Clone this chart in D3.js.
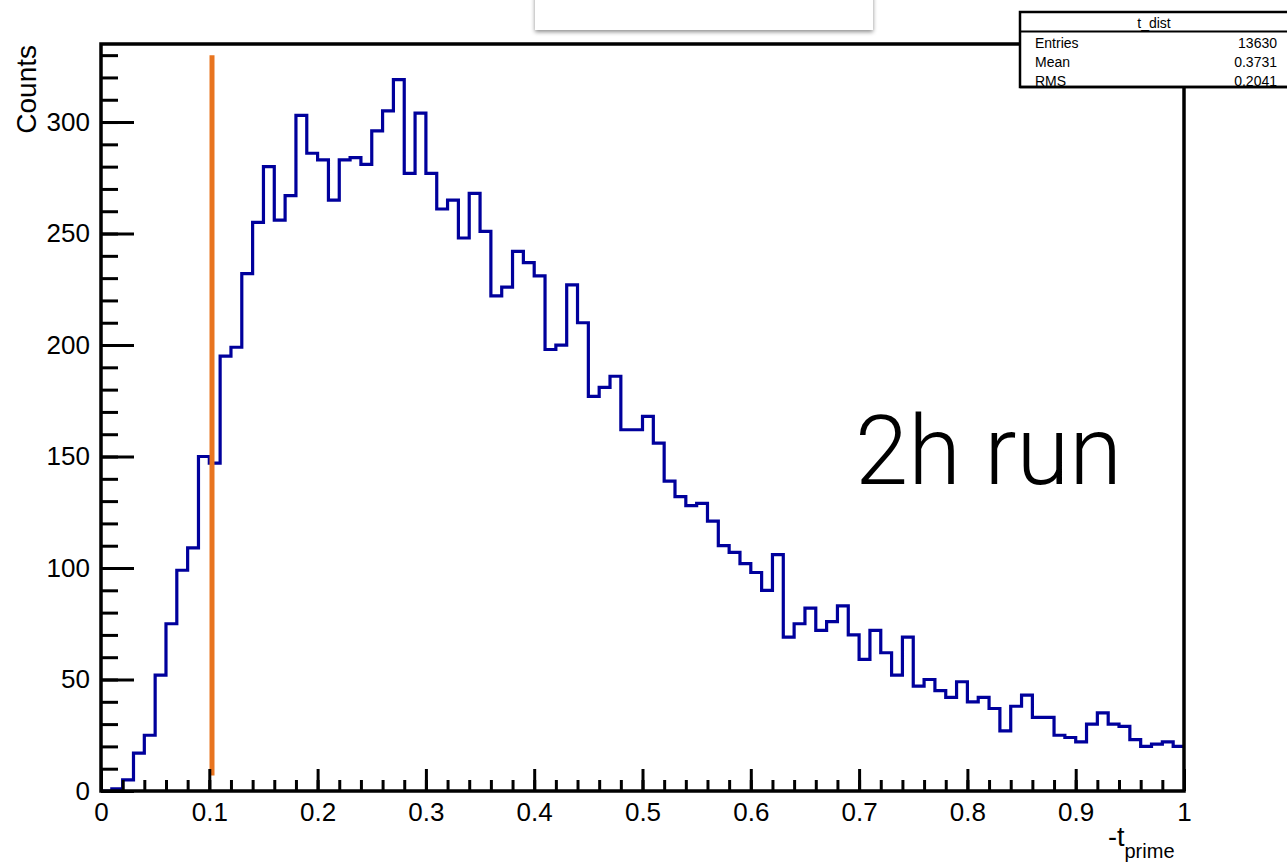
<!DOCTYPE html>
<html lang="en">
  <head>
    <meta charset="UTF-8" />
    <title>t_dist</title>
    <script src="https://cdn.jsdelivr.net/npm/d3@7/dist/d3.min.js"></script>
    <style>
      body { margin: 0; background: #fff; }
      text { font-family: "Liberation Sans", Arial, sans-serif; }
    </style>
  </head>
  <body>
    <div id="wrapper"></div>
    <script>
      // histogram of -t_prime, 100 bins between 0 and 1
      const xRange = [0, 1];
      const counts = [
        0, 1, 5, 17, 25, 52, 75, 99, 109, 150,
        147, 195, 199, 232, 255, 280, 256, 267, 303, 286,
        283, 265, 283, 284, 281, 296, 305, 319, 277, 304,
        277, 261, 265, 248, 268, 251, 222, 226, 242, 237,
        231, 198, 200, 227, 210, 177, 181, 186, 162, 162,
        168, 156, 139, 132, 128, 129, 121, 110, 107, 102,
        98, 90, 106, 69, 75, 82, 72, 76, 83, 70,
        59, 72, 62, 52, 69, 47, 50, 45, 42, 49,
        40, 42, 37, 27, 38, 43, 33, 33, 25, 24,
        22, 30, 35, 30, 29, 23, 20, 21, 22, 20,
      ];
      const yMax = 335;
      const xTicks = [0, 0.1, 0.2, 0.3, 0.4, 0.5, 0.6, 0.7, 0.8, 0.9, 1];
      const xTickLabels = ["0", "0.1", "0.2", "0.3", "0.4", "0.5", "0.6", "0.7", "0.8", "0.9", "1"];
      const yTicks = [0, 50, 100, 150, 200, 250, 300];
      const cutX = 0.1025;
      const cutY = [7, 330];
      const statsTitle = "t_dist";
      const statsNames = ["Entries", "Mean", "RMS"];
      const statsValues = ["13630", "0.3731", "0.2041"];

      const dimensions = {
        width: 1287,
        height: 866,
        margin: { top: 44, right: 103, bottom: 75, left: 101 },
      };
      dimensions.boundedWidth =
        dimensions.width - dimensions.margin.left - dimensions.margin.right;
      dimensions.boundedHeight =
        dimensions.height - dimensions.margin.top - dimensions.margin.bottom;

      const svg = d3
        .select("#wrapper")
        .append("svg")
        .attr("width", dimensions.width)
        .attr("height", dimensions.height);

      const defs = svg.append("defs");
      defs
        .append("filter")
        .attr("id", "shadow")
        .attr("x", "-10%")
        .attr("y", "-10%")
        .attr("width", "120%")
        .attr("height", "150%")
        .append("feDropShadow")
        .attr("dx", 0)
        .attr("dy", 2)
        .attr("stdDeviation", 2)
        .attr("flood-color", "#000")
        .attr("flood-opacity", 0.45);

      const bounds = svg
        .append("g")
        .attr("transform", `translate(${dimensions.margin.left},${dimensions.margin.top})`);

      const xScale = d3.scaleLinear().domain(xRange).range([0, dimensions.boundedWidth]);
      const yScale = d3.scaleLinear().domain([0, yMax]).range([dimensions.boundedHeight, 0]);

      const binWidth = (xRange[1] - xRange[0]) / counts.length;
      const steps = [];
      counts.forEach((c, i) => {
        steps.push([xRange[0] + i * binWidth, c]);
        steps.push([xRange[0] + (i + 1) * binWidth, c]);
      });

      const lineGenerator = d3
        .line()
        .x((d) => xScale(d[0]))
        .y((d) => yScale(d[1]));

      bounds
        .append("path")
        .attr("d", lineGenerator(steps))
        .attr("fill", "none")
        .attr("stroke", "#00009c")
        .attr("stroke-width", 3.2);

      // cut line
      bounds
        .append("line")
        .attr("x1", xScale(cutX))
        .attr("x2", xScale(cutX))
        .attr("y1", yScale(cutY[0]))
        .attr("y2", yScale(cutY[1]))
        .attr("stroke", "#e8741f")
        .attr("stroke-width", 5);

      // axes, ROOT style ticks pointing inside the frame
      const yMajor = bounds
        .append("g")
        .call(
          d3.axisLeft(yScale).tickValues(yTicks).tickSize(-33).tickSizeOuter(0).tickPadding(11)
        );
      const yMinor = bounds
        .append("g")
        .call(
          d3.axisLeft(yScale).tickValues(d3.range(0, yMax, 10)).tickSize(-17).tickSizeOuter(0).tickFormat("")
        );
      const xMajor = bounds
        .append("g")
        .attr("transform", `translate(0,${dimensions.boundedHeight})`)
        .call(
          d3
            .axisBottom(xScale)
            .tickValues(xTicks)
            .tickFormat((d, i) => xTickLabels[i])
            .tickSize(-22)
            .tickSizeOuter(0)
            .tickPadding(12)
        );
      const xMinor = bounds
        .append("g")
        .attr("transform", `translate(0,${dimensions.boundedHeight})`)
        .call(
          d3.axisBottom(xScale).tickValues(d3.range(0, 1.001, 0.02)).tickSize(-11).tickSizeOuter(0).tickFormat("")
        );

      [yMajor, yMinor, xMajor, xMinor].forEach((ax) => {
        ax.select(".domain").remove();
        ax.selectAll(".tick line").attr("stroke", "#000").attr("stroke-width", 3);
        ax.selectAll(".tick text").attr("fill", "#000").style("font-size", "26px");
      });

      // frame
      bounds
        .append("rect")
        .attr("width", dimensions.boundedWidth)
        .attr("height", dimensions.boundedHeight)
        .attr("fill", "none")
        .attr("stroke", "#000")
        .attr("stroke-width", 3.5);

      // axis titles
      svg
        .append("text")
        .attr("transform", "translate(36,45) rotate(-90)")
        .attr("text-anchor", "end")
        .style("font-size", "28px")
        .text("Counts");

      const xTitle = svg
        .append("text")
        .attr("x", 1108)
        .attr("y", 846)
        .style("font-size", "27px");
      xTitle.append("tspan").text("-t");
      xTitle
        .append("tspan")
        .attr("dy", 12)
        .style("font-size", "20px")
        .text("prime");

      // annotation
      svg
        .append("text")
        .attr("x", 855)
        .attr("y", 484)
        .style("font-family", "Roboto, sans-serif")
        .style("font-weight", 300)
        .style("font-size", "96px")
        .attr("textLength", 267)
        .attr("lengthAdjust", "spacingAndGlyphs")
        .text("2h run");

      // empty title box at the top
      svg
        .append("rect")
        .attr("x", 535)
        .attr("y", -6)
        .attr("width", 338)
        .attr("height", 36)
        .attr("fill", "#fff")
        .attr("filter", "url(#shadow)");

      // stats box
      const stats = svg.append("g").attr("transform", "translate(1020,12)");
      stats
        .append("rect")
        .attr("width", 270)
        .attr("height", 75)
        .attr("fill", "#fff")
        .attr("stroke", "#000")
        .attr("stroke-width", 2.5);
      stats
        .append("line")
        .attr("x1", 0)
        .attr("x2", 270)
        .attr("y1", 19.5)
        .attr("y2", 19.5)
        .attr("stroke", "#000")
        .attr("stroke-width", 2);
      stats
        .append("text")
        .attr("x", 134)
        .attr("y", 15.5)
        .attr("text-anchor", "middle")
        .style("font-size", "14px")
        .text(statsTitle);
      stats
        .selectAll(".name")
        .data(statsNames)
        .join("text")
        .attr("x", 15)
        .attr("y", (d, i) => 35.5 + i * 19)
        .style("font-size", "14px")
        .text((d) => d);
      stats
        .selectAll(".value")
        .data(statsValues)
        .join("text")
        .attr("x", 257)
        .attr("y", (d, i) => 35.5 + i * 19)
        .attr("text-anchor", "end")
        .style("font-size", "14px")
        .text((d) => d);
      // bottom border drawn over the last row, as in the original
      stats
        .append("line")
        .attr("x1", 0)
        .attr("x2", 270)
        .attr("y1", 75)
        .attr("y2", 75)
        .attr("stroke", "#000")
        .attr("stroke-width", 2.5);
    </script>
  </body>
</html>
